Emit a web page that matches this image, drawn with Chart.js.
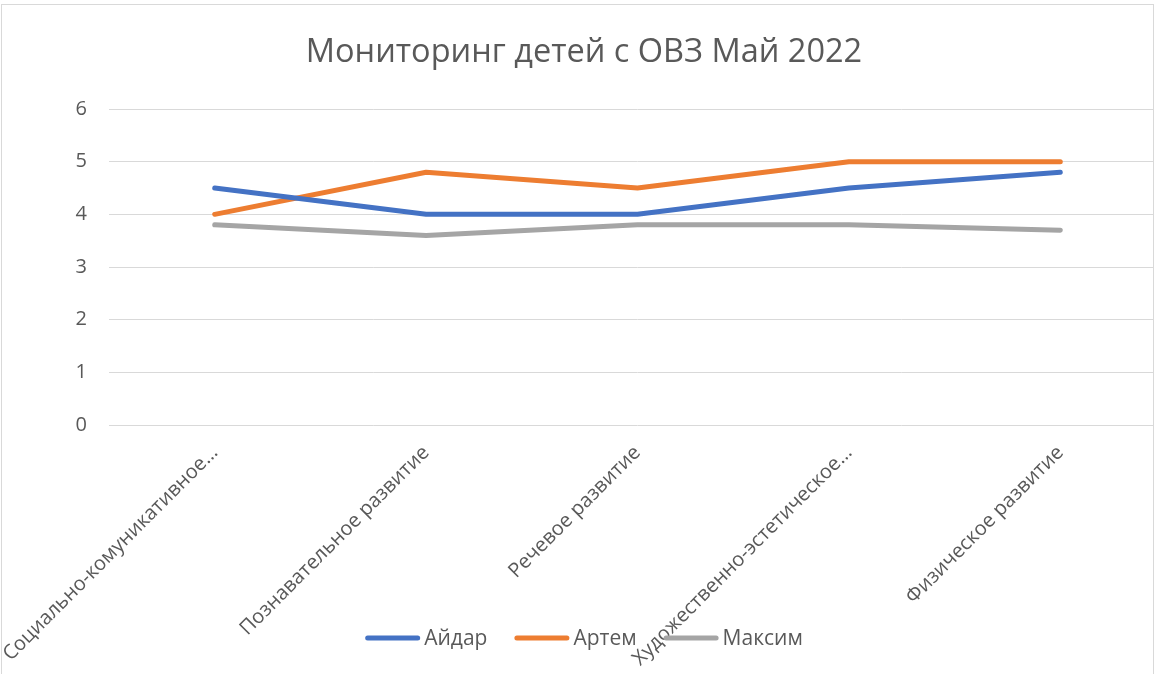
<!DOCTYPE html>
<html>
<head>
<meta charset="utf-8">
<script src="https://cdn.jsdelivr.net/npm/chart.js@4/dist/chart.umd.min.js"></script>
<style>
  html, body { margin: 0; padding: 0; background: #fff; overflow: hidden; }
  #frame {
    position: absolute; left: 1px; top: 4px;
    width: 1151px; height: 690px;
    border: 1px solid #d9d9d9;
    overflow: hidden;
  }
  #wrap { position: absolute; left: 0; top: 0; width: 1204px; height: 669px; }
</style>
</head>
<body>
<div id="frame">
  <div id="wrap"><canvas id="chart"></canvas></div>
</div>
<script>
// chart data
var categories = [
  'Социально-комуникативное развитие',
  'Познавательное развитие',
  'Речевое развитие',
  'Художественно-эстетическое развитие',
  'Физическое развитие'
];
var aidar = [4.5, 4, 4, 4.5, 4.8];
var artem = [4, 4.8, 4.5, 5, 5];
var maksim = [3.8, 3.6, 3.8, 3.8, 3.7];
var seriesNames = ['Айдар', 'Артем', 'Максим'];
var seriesColors = ['#4472C4', '#ED7D31', '#A5A5A5'];

var textColor = '#595959';
var fontFamily = "'Open Sans', 'Noto Sans', sans-serif";
var rightPad = 40;

function makeSet(idx, values) {
  return {
    label: seriesNames[idx],
    data: values,
    borderColor: seriesColors[idx],
    backgroundColor: seriesColors[idx],
    borderWidth: 5,
    borderCapStyle: 'round',
    borderJoinStyle: 'round',
    pointRadius: 0,
    pointHoverRadius: 0,
    tension: 0
  };
}

// long names get cut like in the original ("…")
function shortLabel(text) {
  if (text.length > 30) {
    return text.split(' ')[0] + '…';
  }
  return text;
}

// legend drawn by hand so it can sit over the axis labels like in Excel
var lineLegend = {
  id: 'lineLegend',
  afterDraw: function(chart) {
    var c = chart.ctx;
    var sets = chart.data.datasets;
    var lineLen = 55, gap = 4, itemGap = 27;
    var y = 633;
    c.save();
    c.font = '21px ' + fontFamily;
    var widths = sets.map(function(ds) {
      return lineLen + gap + c.measureText(ds.label).width;
    });
    var total = widths.reduce(function(a, b) { return a + b; }, 0) + itemGap * (sets.length - 1);
    var x = (chart.width - rightPad) / 2 - total / 2;
    sets.forEach(function(ds, i) {
      c.strokeStyle = ds.borderColor;
      c.lineWidth = 5;
      c.lineCap = 'round';
      c.beginPath();
      c.moveTo(x + 2.5, y);
      c.lineTo(x + lineLen - 2.5, y);
      c.stroke();
      c.fillStyle = textColor;
      c.textAlign = 'left';
      c.textBaseline = 'middle';
      c.fillText(ds.label, x + lineLen + gap, y + 1);
      x += widths[i] + itemGap;
    });
    c.restore();
  }
};

var ctx = document.getElementById('chart');
new Chart(ctx, {
  type: 'line',
  data: {
    labels: categories,
    datasets: [makeSet(0, aidar), makeSet(1, artem), makeSet(2, maksim)]
  },
  plugins: [lineLegend],
  options: {
    responsive: true,
    maintainAspectRatio: false,
    animation: false,
    layout: { padding: { left: 0, right: rightPad, top: 0, bottom: 0 } },
    plugins: {
      title: {
        display: true,
        text: 'Мониторинг детей с ОВЗ Май 2022',
        color: textColor,
        font: { family: fontFamily, size: 32.5, weight: 'normal' },
        padding: { top: 28, bottom: 37 }
      },
      legend: { display: false },
      tooltip: { enabled: false }
    },
    scales: {
      x: {
        offset: true,
        grid: { display: false },
        border: { display: false },
        ticks: {
          color: textColor,
          font: { family: fontFamily, size: 20 },
          minRotation: 45,
          maxRotation: 45,
          autoSkip: false,
          padding: 8,
          callback: function(value) {
            return shortLabel(this.getLabelForValue(value));
          }
        },
        afterFit: function(scale) {
          scale.height = 249;
          scale.paddingLeft = 0;
          scale.paddingRight = 0;
        }
      },
      y: {
        min: 0,
        max: 6,
        grid: { color: '#d9d9d9', lineWidth: 1, drawTicks: false },
        border: { display: false },
        ticks: {
          stepSize: 1,
          color: textColor,
          font: { family: fontFamily, size: 20 },
          padding: 22
        },
        afterFit: function(scale) { scale.width = 107; }
      }
    }
  }
});
</script>
</body>
</html>
